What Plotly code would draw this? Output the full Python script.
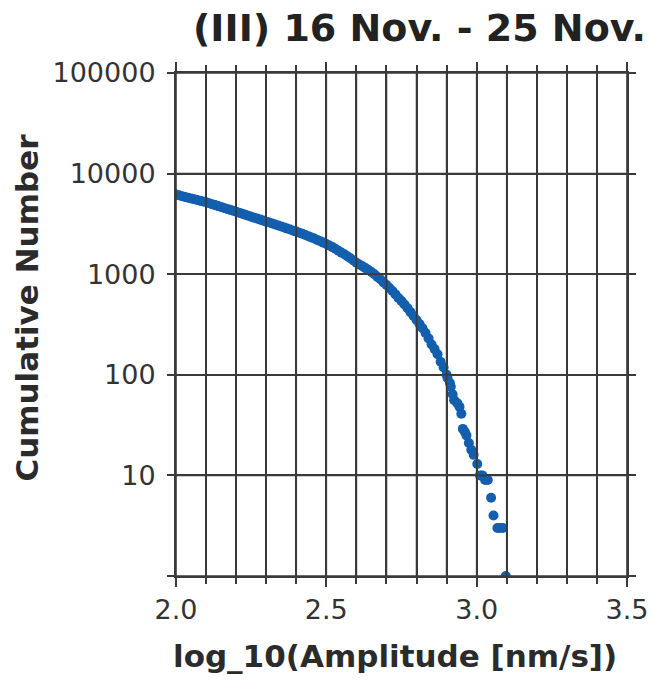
import plotly.graph_objects as go

# Cumulative number of events above each amplitude (log10 of nm/s)
amplitude = [
    2.00, 2.01, 2.02, 2.03, 2.04, 2.05, 2.06, 2.07, 2.08, 2.09,
    2.10, 2.11, 2.12, 2.13, 2.14, 2.15, 2.16, 2.17, 2.18, 2.19,
    2.20, 2.21, 2.22, 2.23, 2.24, 2.25, 2.26, 2.27, 2.28, 2.29,
    2.30, 2.31, 2.32, 2.33, 2.34, 2.35, 2.36, 2.37, 2.38, 2.39,
    2.40, 2.41, 2.42, 2.43, 2.44, 2.45, 2.46, 2.47, 2.48, 2.49,
    2.50, 2.51, 2.52, 2.53, 2.54, 2.55, 2.56, 2.57, 2.58, 2.59,
    2.60, 2.61, 2.62, 2.63, 2.64, 2.65, 2.66, 2.67, 2.68, 2.69,
    2.70, 2.71, 2.72, 2.73, 2.74, 2.75, 2.76, 2.77, 2.78, 2.79,
    2.80, 2.81, 2.82, 2.83, 2.84, 2.85, 2.86, 2.87, 2.88, 2.89,
    2.90, 2.903, 2.911, 2.914, 2.920, 2.925, 2.936, 2.943, 2.949,
    2.954, 2.961, 2.966, 2.974, 2.982, 2.990, 3.002, 3.011, 3.019,
    3.028, 3.037, 3.048, 3.056, 3.069, 3.077, 3.087, 3.097,
]
cumulative = [
    6200, 6080, 5970, 5860, 5750, 5650, 5560, 5460, 5370, 5280,
    5190, 5080, 4970, 4860, 4750, 4650, 4550, 4450, 4360, 4270,
    4180, 4090, 4000, 3910, 3820, 3730, 3650, 3570, 3490, 3410,
    3330, 3260, 3190, 3120, 3050, 2980, 2910, 2840, 2780, 2710,
    2650, 2580, 2520, 2450, 2390, 2320, 2260, 2190, 2130, 2060,
    2000, 1930, 1860, 1790, 1710, 1640, 1580, 1510, 1440, 1370,
    1300, 1250, 1200, 1150, 1100, 1050, 1000, 940, 890, 830,
    780, 730, 680, 630, 580, 540, 500, 460, 420, 385,
    350, 320, 290, 260, 230, 200, 180, 160, 135, 118,
    100, 93, 83, 76, 64, 56, 52, 48, 41,
    29, 27, 25, 21, 18, 16, 13, 10, 10,
    9, 9, 6, 4, 3, 3, 3, 1,
]

x_grid = [2.0, 2.1, 2.2, 2.3, 2.4, 2.5, 2.6, 2.7, 2.8, 2.9,
          3.0, 3.1, 3.2, 3.3, 3.4, 3.5]
x_labels = ["2.0", "2.5", "3.0", "3.5"]
x_label_vals = [2.0, 2.5, 3.0, 3.5]
y_vals = [1, 10, 100, 1000, 10000, 100000]
y_labels = ["", "10", "100", "1000", "10000", "100000"]

title_text = "(III) 16 Nov. - 25 Nov."
x_title = "log_10(Amplitude [nm/s])"
y_title = "Cumulative Number"

BLUE = "#135fae"
INK = "#2b2b2b"
GRID = "#3a3a3a"
FONT = "DejaVu Sans"

fig = go.Figure()
fig.add_trace(go.Scatter(
    x=amplitude, y=cumulative, mode="markers",
    marker=dict(color=BLUE, size=10, line=dict(width=0)),
    showlegend=False, hoverinfo="x+y",
))

fig.update_layout(
    width=651, height=681,
    margin=dict(l=176, r=24, t=73, b=105, autoexpand=False),
    paper_bgcolor="white", plot_bgcolor="white",
    font=dict(family=FONT, color=INK),
)

fig.update_xaxes(
    range=[2.0, 3.5], automargin=False,
    tickvals=x_label_vals, ticktext=x_labels,
    tickfont=dict(size=27, color="#333333", family=FONT),
    ticks="outside", ticklen=9, tickwidth=2, tickcolor=GRID,
    showgrid=True, gridcolor=GRID, gridwidth=1.8,
    minor=dict(tickvals=x_grid, ticks="outside", ticklen=6, tickwidth=2,
               tickcolor=GRID, showgrid=True, gridcolor=GRID, gridwidth=1.8),
    showline=True, linecolor=GRID, linewidth=2, mirror="ticks",
    zeroline=False,
)
fig.update_yaxes(
    type="log", range=[0, 5], automargin=False,
    tickvals=y_vals, ticktext=y_labels,
    tickfont=dict(size=27, color="#333333", family=FONT),
    ticks="outside", ticklen=7, tickwidth=2, tickcolor=GRID,
    ticklabelstandoff=6,
    showgrid=True, gridcolor=GRID, gridwidth=1.8,
    showline=True, linecolor=GRID, linewidth=2, mirror="ticks",
    zeroline=False,
)

# Grid drawn again over the markers so the lines cut through the curve
for xv in x_grid:
    fig.add_shape(type="line", layer="above", xref="x", yref="paper",
                  x0=xv, x1=xv, y0=0, y1=1,
                  line=dict(color=GRID, width=1.6))
for yv in y_vals:
    fig.add_shape(type="line", layer="above", xref="paper", yref="y",
                  x0=0, x1=1, y0=yv, y1=yv,
                  line=dict(color=GRID, width=1.6))

# Titles placed as annotations in paper coordinates
fig.add_annotation(
    text=f"<b>{title_text}</b>", xref="paper", yref="paper",
    x=1.047, y=1.089, xanchor="right", yanchor="middle", showarrow=False,
    font=dict(family=FONT, size=38, color="#222222"),
)
fig.add_annotation(
    text=f"<b>{x_title}</b>", xref="paper", yref="paper",
    x=0.486, y=-0.159, xanchor="center", yanchor="middle", showarrow=False,
    font=dict(family=FONT, size=31, color="#2b2b2b"),
)
fig.add_annotation(
    text=f"<b>{y_title}</b>", xref="paper", yref="paper",
    x=-0.33, y=0.534, xanchor="center", yanchor="middle", showarrow=False,
    textangle=-90, font=dict(family=FONT, size=31, color="#2b2b2b"),
)

fig.write_html("out.html")
